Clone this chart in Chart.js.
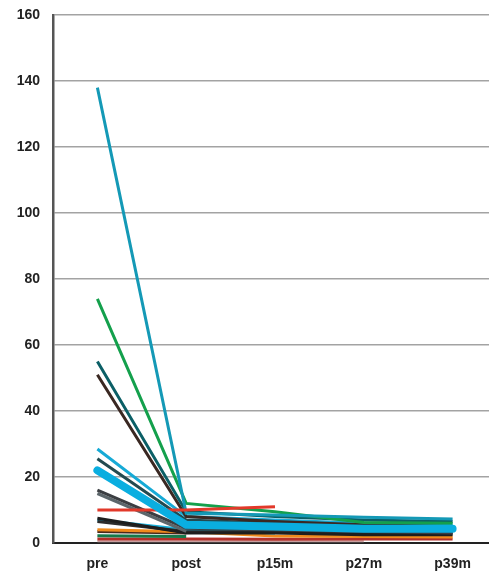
<!DOCTYPE html>
<html>
<head>
<meta charset="utf-8">
<script src="https://cdn.jsdelivr.net/npm/chart.js@4"></script>
<style>
  html, body { margin: 0; padding: 0; background: #fff; overflow: hidden; }
  #wrap { width: 489px; height: 575px; }
</style>
</head>
<body>
<div id="wrap"><canvas id="lineChart" width="489" height="575"></canvas></div>
<script>
// time points
var categories = ['pre', 'post', 'p15m', 'p27m', 'p39m'];
var yTicks = [0, 20, 40, 60, 80, 100, 120, 140, 160];

// one array per subject (null = not measured)
var sThickCyan  = [22, 5.5, 5, 4.3, 4.3];
var sTealBlue   = [138, 9, 8.5, 7.8, 7.3];
var sGreen      = [74, 12, 9.5, 6.2, 6];
var sDarkTeal   = [55, 9.5, 8, 7, 6.5];
var sBrown      = [51, 8, 6.5, 5.5, 5];
var sLightCyan  = [28.5, 8, 7, 6, 5.5];
var sSlate      = [25.5, 7, 6, 5.5, 5];
var sDarkGray   = [16, 4.5, 4, 3.5, 3];
var sGray       = [15, 3.5, null, null, null];
var sRed        = [10, 10, 11, null, null];
var sBlack      = [7.5, 3, 3, 2.5, 2.5];
var sBlack2     = [6.5, 3.5, 3.4, 3, 3];
var sCyan2      = [7, 4, 3, null, null];
var sOrange     = [4, 3.4, 2.1, 2, 1.8];
var sBrown2     = [3.5, 3, null, null, null];
var sGreen2     = [2.2, 2, null, null, null];
var sDarkRed    = [1.2, 1.2, 1.1, 1.2, 1.2];
var sPink       = [0.5, 0.5, 0.5, 0.5, null];

function pts(vals) {
    return vals.map(function (v, i) { return { x: i, y: v }; });
}

function line(vals, color, width) {
    return {
        data: pts(vals),
        borderColor: color,
        backgroundColor: color,
        borderWidth: width,
        pointRadius: 0,
        tension: 0,
        spanGaps: false,
        fill: false
    };
}

var thick = line(sThickCyan, '#0aaee0', 8);
thick.borderCapStyle = 'round';
thick.borderJoinStyle = 'round';

var ctx = document.getElementById('lineChart').getContext('2d');
var chart = new Chart(ctx, {
    type: 'line',
    data: {
        datasets: [
            thick,
            line(sRed, '#e2392a', 3),
            line(sTealBlue, '#1499b6', 3),
            line(sGreen, '#14a04c', 3),
            line(sDarkTeal, '#0b5f66', 3),
            line(sBrown, '#3a2822', 3),
            line(sLightCyan, '#16aad6', 3),
            line(sSlate, '#234a50', 3),
            line(sDarkGray, '#3b3e42', 3),
            line(sGray, '#5c666b', 3),
            line(sBlack, '#1e1e1e', 3),
            line(sBlack2, '#2c2c2c', 3),
            line(sCyan2, '#1ab0da', 3),
            line(sOrange, '#f08a1c', 3),
            line(sBrown2, '#4a2a1e', 3),
            line(sGreen2, '#15794a', 3),
            line(sDarkRed, '#b3302a', 3),
            line(sPink, '#c9a0a0', 2)
        ]
    },
    options: {
        responsive: false,
        animation: false,
        layout: { padding: { top: 15, right: 0, left: 0, bottom: 0 } },
        plugins: {
            legend: { display: false },
            tooltip: { enabled: false }
        },
        scales: {
            x: {
                type: 'linear',
                min: -0.5,
                max: 4.41,
                afterBuildTicks: function (s) {
                    s.ticks = categories.map(function (c, i) { return { value: i }; });
                },
                afterFit: function (s) {
                    s.height = 32;
                    s.paddingLeft = 0;
                    s.paddingRight = 0;
                },
                grid: { display: false, drawTicks: false },
                border: { display: true, color: '#222', width: 2 },
                ticks: {
                    padding: 13,
                    maxRotation: 0,
                    autoSkip: false,
                    color: '#222',
                    font: { family: 'Liberation Sans', size: 14, weight: 'bold' },
                    callback: function (v) { return categories[v]; }
                }
            },
            y: {
                min: 0,
                max: 160,
                afterBuildTicks: function (s) {
                    s.ticks = yTicks.map(function (v) { return { value: v }; });
                },
                afterFit: function (s) {
                    s.width = 53;
                    s.paddingTop = 0;
                    s.paddingBottom = 0;
                },
                grid: { color: '#a3a3a3', lineWidth: 1.5, drawTicks: false },
                border: { display: true, color: '#555', width: 2.5 },
                ticks: {
                    padding: 13,
                    color: '#222',
                    font: { family: 'Liberation Sans', size: 14, weight: 'bold' }
                }
            }
        }
    }
});
</script>
</body>
</html>
